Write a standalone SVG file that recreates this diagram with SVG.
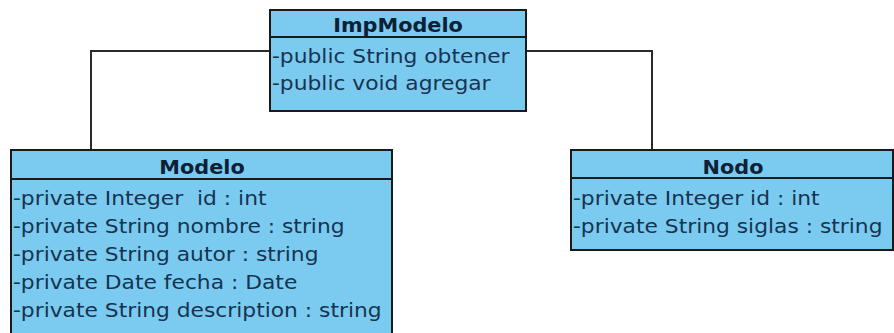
<svg xmlns="http://www.w3.org/2000/svg" width="894" height="333" viewBox="0 0 894 333">
<style>
.box{fill:#7BCBF0;stroke:#1a1a1a;stroke-width:2}
.sep{stroke:#1a1a1a;stroke-width:2}
.hd{font-family:"DejaVu Sans",Verdana,sans-serif;font-weight:bold;font-size:20px;fill:#0c2036;text-anchor:middle}
.at{font-family:"DejaVu Sans",Verdana,sans-serif;font-size:20px;fill:#163350}
.cn{fill:none;stroke:#2a2a2a;stroke-width:2}
</style>
<rect width="894" height="333" fill="#ffffff"/>
<g id="connectors">
<path class="cn" d="M270,51 H91 V150"/>
<path class="cn" d="M526,51 H652 V150"/>
</g>
<g id="ImpModelo">
<rect class="box" x="270" y="10" width="256" height="101"/>
<line class="sep" x1="270" y1="37" x2="526" y2="37"/>
<text class="hd" transform="translate(398,32) scale(1.04,1)">ImpModelo</text>
<text class="at" transform="translate(272,63) scale(1.09,1)">-public String obtener</text>
<text class="at" transform="translate(272,90) scale(1.09,1)">-public void agregar</text>
</g>
<g id="Modelo">
<rect class="box" x="11" y="150" width="381" height="186"/>
<line class="sep" x1="11" y1="179" x2="392" y2="179"/>
<text class="hd" transform="translate(202,174) scale(1.04,1)">Modelo</text>
<text class="at" transform="translate(13,205) scale(1.09,1)">-private Integer&#160; id : int</text>
<text class="at" transform="translate(13,233) scale(1.09,1)">-private String nombre : string</text>
<text class="at" transform="translate(13,261) scale(1.09,1)">-private String autor : string</text>
<text class="at" transform="translate(13,289) scale(1.09,1)">-private Date fecha : Date</text>
<text class="at" transform="translate(13,317) scale(1.09,1)">-private String description : string</text>
</g>
<g id="Nodo">
<rect class="box" x="571" y="150" width="322" height="100"/>
<line class="sep" x1="571" y1="178" x2="893" y2="178"/>
<text class="hd" transform="translate(733,174) scale(1.04,1)">Nodo</text>
<text class="at" transform="translate(573,205) scale(1.09,1)">-private Integer id : int</text>
<text class="at" transform="translate(573,233) scale(1.09,1)">-private String siglas : string</text>
</g>
</svg>
